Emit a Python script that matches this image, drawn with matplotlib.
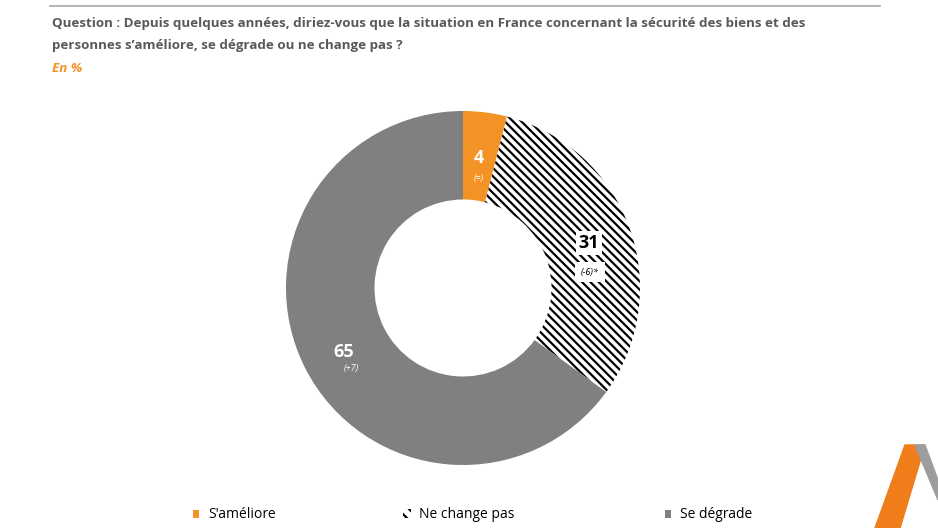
import matplotlib
matplotlib.use("Agg")
import matplotlib.pyplot as plt
from matplotlib.patches import Patch, Polygon
import matplotlib as mpl

categories = ["S'améliore", "Ne change pas", "Se dégrade"]
values = [4, 31, 65]
changes = ["(=)", "(-6)*", "(+7)"]
colors = ["#F39325", "white", "#808080"]

mpl.rcParams['hatch.linewidth'] = 1.6
plt.rcParams['font.family'] = 'Open Sans'

W, H = 938, 528
fig = plt.figure(figsize=(W/100, H/100), dpi=100)

fig.add_artist(plt.Line2D([50/W, 880/W], [1-6/H, 1-6/H], color="#A6A6A6", lw=1.2))
fig.text(52/W, 1-24/H, "Question : Depuis quelques années, diriez-vous que la situation en France concernant la sécurité des biens et des",
         fontsize=9.6, fontweight="bold", color="#595959", va="center")
fig.text(52/W, 1-46/H, "personnes s’améliore, se dégrade ou ne change pas ?",
         fontsize=9.6, fontweight="bold", color="#595959", va="center")
fig.text(52/W, 1-68/H, "En %", fontsize=9.6, fontweight="bold", style="italic", color="#F39325", va="center")

cx, cy, R = 463, 288, 177
ax = fig.add_axes([(cx-R)/W, (H-cy-R)/H, 2*R/W, 2*R/H])
wedges, _ = ax.pie(values, colors=colors, startangle=90, counterclock=False,
                   wedgeprops=dict(width=0.5, linewidth=0))
wedges[1].set_hatch("\\\\\\\\")
wedges[1].set_edgecolor("black")
wedges[1].set_linewidth(0)
ax.set_xlim(-1, 1); ax.set_ylim(-1, 1)
ax.set_aspect("equal")
ax.axis("off")

def px(x, y):
    return x/W, 1-y/H

fig.text(*px(479, 158), str(values[0]), color="white", fontsize=13, fontweight="bold", ha="center", va="center")
fig.text(*px(479, 178), changes[0], color="white", fontsize=6.5, style="italic", ha="center", va="center")
fig.text(*px(589, 243), str(values[1]), color="black", fontsize=13, fontweight="bold", ha="center", va="center",
         bbox=dict(fc="white", ec="none", pad=2))
fig.text(*px(590, 272), changes[1], color="black", fontsize=6.5, style="italic", ha="center", va="center",
         bbox=dict(fc="white", ec="none", pad=4))
fig.text(*px(344, 352), str(values[2]), color="white", fontsize=13, fontweight="bold", ha="center", va="center")
fig.text(*px(351, 368), changes[2], color="white", fontsize=6.5, style="italic", ha="center", va="center")

xs = [180, 390, 652]
for i, (c, x) in enumerate(zip(categories, xs)):
    if i == 1:
        h = Patch(facecolor="white", edgecolor="black", hatch="\\\\\\", linewidth=0)
        hl = 0.6
    else:
        h = Patch(facecolor=colors[i], edgecolor="none")
        hl = 0.5
    fig.legend([h], [c], loc="center left", bbox_to_anchor=px(x, 515), frameon=False,
               fontsize=10, handlelength=hl, handleheight=hl, handletextpad=0.6, labelcolor="black")

fig.add_artist(Polygon([(875/W, 0), (905/W, 1-445/H), (925/W, 1-445/H), (900/W, 0)], closed=True,
                       transform=fig.transFigure, color="#EE7D1A"))
fig.add_artist(Polygon([(915/W, 1-445/H), (925/W, 1-445/H), (938/W, 1-480/H), (938/W, 1-500/H)], closed=True,
                       transform=fig.transFigure, color="#9D9D9D"))

fig.savefig("out.png", dpi=100)
